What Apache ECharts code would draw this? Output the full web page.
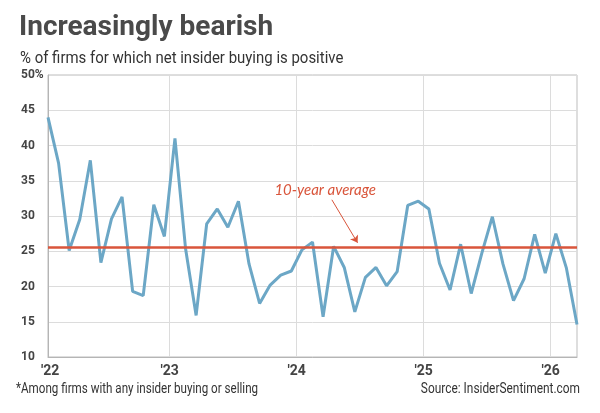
<!DOCTYPE html>
<html>
<head>
<meta charset="utf-8">
<script src="https://cdn.jsdelivr.net/npm/echarts@6/dist/echarts.min.js"></script>
<style>
html,body{margin:0;padding:0;background:#fff;}
#chart{width:600px;height:413px;}
</style>
</head>
<body>
<div id="chart"></div>
<script>
// monthly readings, Jan 2022 - Mar 2026
var months = [
  '2022-01','2022-02','2022-03','2022-04','2022-05','2022-06','2022-07','2022-08','2022-09','2022-10','2022-11','2022-12',
  '2023-01','2023-02','2023-03','2023-04','2023-05','2023-06','2023-07','2023-08','2023-09','2023-10','2023-11','2023-12',
  '2024-01','2024-02','2024-03','2024-04','2024-05','2024-06','2024-07','2024-08','2024-09','2024-10','2024-11','2024-12',
  '2025-01','2025-02','2025-03','2025-04','2025-05','2025-06','2025-07','2025-08','2025-09','2025-10','2025-11','2025-12',
  '2026-01','2026-02','2026-03'
];
var pctPositive = [
  44.0, 37.5, 25.1, 29.5, 37.9, 23.4, 29.6, 32.7, 19.3, 18.7, 31.6, 27.1,
  41.0, 25.4, 15.9, 28.9, 31.0, 28.4, 32.1, 23.2, 17.6, 20.2, 21.6, 22.2,
  25.2, 26.3, 15.7, 25.7, 22.7, 16.4, 21.3, 22.7, 20.1, 22.1, 31.5, 32.1,
  31.0, 23.3, 19.5, 26.0, 19.0, 24.7, 29.9, 23.2, 18.0, 21.1, 27.4, 21.9,
  27.5, 22.6, 14.6
];
var tenYearAvg = 25.5;
var yearLabels = ["'22", "'23", "'24", "'25", "'26"];
var yearPos = [0.2, 11.5, 23.5, 35.5, 47.5];

var dom = document.getElementById('chart');
var myChart = echarts.init(dom);

var seriesData = [];
for (var i = 0; i < pctPositive.length; i++) {
  seriesData.push([i, pctPositive[i]]);
}

function txt(s, x, y, size, weight, color, sx, align) {
  return {
    type: 'text', x: x, y: y, scaleX: sx, silent: true,
    style: {
      text: s, fontFamily: 'Roboto', fontSize: size, fontWeight: weight,
      fill: color, align: align || 'left', verticalAlign: 'middle'
    }
  };
}

var option = {
  animation: false,
  backgroundColor: '#fff',
  graphic: [
    txt('Increasingly bearish', 19, 28, 28, 'bold', '#4a4a4a', 1),
    txt('% of firms for which net insider buying is positive', 20, 59, 17, 'normal', '#333', 0.88),
    txt('*Among firms with any insider buying or selling', 16, 389, 14, 'normal', '#333', 0.83),
    txt('Source: InsiderSentiment.com', 580, 389, 14, 'normal', '#333', 0.85, 'right')
  ],
  grid: {
    left: 48, right: 23, top: 75, bottom: 56,
    show: true, borderColor: '#bdbdbd', borderWidth: 1
  },
  xAxis: {
    type: 'value',
    min: 0,
    max: months.length - 1,
    axisLine: {show: true, lineStyle: {color: '#b5b5b5'}},
    axisTick: {show: false, customValues: yearPos.slice(1)},
    splitLine: {show: true, lineStyle: {color: '#dcdcdc', width: 1}},
    axisLabel: {
      customValues: yearPos,
      margin: 7,
      color: '#444',
      fontFamily: 'Roboto',
      fontWeight: 'bold',
      fontSize: 14,
      formatter: function (v) {
        var k = yearPos.indexOf(v);
        return k >= 0 ? yearLabels[k] : '';
      }
    }
  },
  yAxis: {
    type: 'value',
    min: 10,
    max: 50,
    interval: 5,
    axisLine: {show: true, lineStyle: {color: '#b5b5b5'}},
    axisTick: {show: false},
    splitLine: {show: true, lineStyle: {color: '#dcdcdc', width: 1}},
    axisLabel: {
      align: 'left',
      margin: 27,
      color: '#444',
      fontFamily: 'Roboto',
      fontWeight: 'bold',
      fontSize: 12,
      formatter: function (v) { return v === 50 ? v + '%' : '' + v; }
    }
  },
  series: [{
    name: 'Net insider buying positive',
    type: 'line',
    data: seriesData,
    showSymbol: false,
    lineStyle: {color: '#6ca7c6', width: 3},
    itemStyle: {color: '#6ca7c6'},
    z: 3,
    markLine: {
      silent: true,
      animation: false,
      symbol: ['none', 'none'],
      data: [
        {
          yAxis: tenYearAvg,
          lineStyle: {color: '#d9553b', width: 2.5, type: 'solid'}
        },
        [
          {coord: [26.83, 32.3], symbol: 'none'},
          {coord: [29.26, 26.2], symbol: 'arrow', symbolSize: 7}
        ]
      ],
      lineStyle: {color: '#d9553b', width: 1, type: 'solid'},
      label: {show: false}
    },
    markPoint: {
      silent: true,
      symbol: 'circle',
      symbolSize: 0,
      data: [{coord: [26.2, 33.7], value: '10-year average'}],
      label: {
        show: true,
        position: 'inside',
        formatter: '{c}',
        fontFamily: 'Lato',
        fontStyle: 'italic',
        fontSize: 15,
        color: '#d9553b'
      }
    }
  }]
};

if (option && typeof option === "object") {
  myChart.setOption(option, true);
}
</script>
</body>
</html>
